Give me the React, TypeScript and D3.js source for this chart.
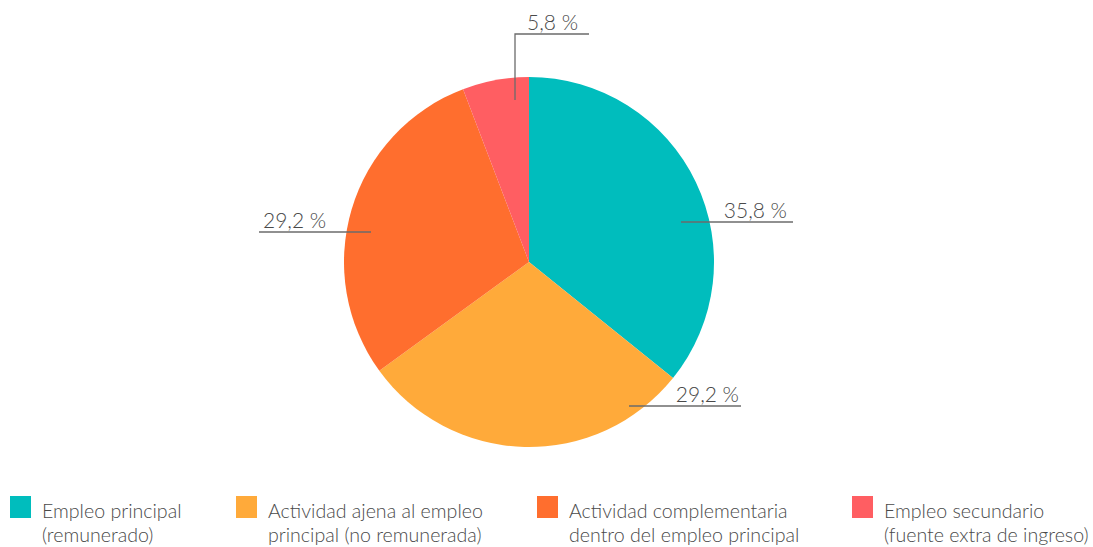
import React, { useEffect, useRef } from 'react';
import { select, pie, arc } from 'd3';

const categories = [
  'Empleo principal (remunerado)',
  'Actividad ajena al empleo principal (no remunerada)',
  'Actividad complementaria dentro del empleo principal',
  'Empleo secundario (fuente extra de ingreso)',
];
const values = [35.8, 29.2, 29.2, 5.8];
const valueLabels = ['35,8 %', '29,2 %', '29,2 %', '5,8 %'];
const colors = ['#00bdbd', '#ffaa3a', '#ff6e2e', '#ff5e62'];
const legendLines = [
  ['Empleo principal', '(remunerado)'],
  ['Actividad ajena al empleo', 'principal (no remunerada)'],
  ['Actividad complementaria', 'dentro del empleo principal'],
  ['Empleo secundario', '(fuente extra de ingreso)'],
];

const width = 1093;
const height = 547;
const cx = 529;
const cy = 262;
const radius = 185;
const font = 'Lato, "Open Sans", sans-serif';

// leader line layout relative to pie centre
const leaders = [
  { x1: 152, x2: 264, y: -40, anchor: 'end', tx: 258 },
  { x1: 100, x2: 212, y: 144, anchor: 'end', tx: 210 },
  { x1: -158, x2: -270, y: -30, anchor: 'start', tx: -266 },
  { x1: -14, x2: 60, y: -228, anchor: 'start', tx: -2, yStart: -162 },
];
const legendX = [10, 236, 537, 852];

export default function App() {
  const svgRef = useRef<SVGSVGElement>(null);

  useEffect(() => {
    const svg = select(svgRef.current);
    svg.selectAll('*').remove();

    const arcs = pie<number>().sort(null)(values);
    const arcGen = arc<any>().innerRadius(0).outerRadius(radius);

    const g = svg.append('g').attr('transform', `translate(${cx},${cy})`);
    g.selectAll('path.slice')
      .data(arcs)
      .join('path')
      .attr('class', 'slice')
      .attr('d', arcGen)
      .attr('fill', (d, i) => colors[i]);

    leaders.forEach((l, i) => {
      const path = l.yStart !== undefined
        ? `M${l.x1},${l.yStart}V${l.y}H${l.x2}`
        : `M${l.x1},${l.y}H${l.x2}`;
      g.append('path')
        .attr('d', path)
        .attr('fill', 'none')
        .attr('stroke', '#6b6b6b')
        .attr('stroke-width', 1.3);
      g.append('text')
        .attr('x', l.tx)
        .attr('y', l.y - 4)
        .attr('text-anchor', l.anchor)
        .attr('font-family', font)
        .attr('font-weight', 300)
        .attr('font-size', 21)
        .attr('fill', '#4a4a4a')
        .text(valueLabels[i]);
    });

    const legend = svg.append('g');
    categories.forEach((c, i) => {
      const item = legend.append('g').attr('transform', `translate(${legendX[i]},496)`);
      item.append('rect').attr('width', 21).attr('height', 22).attr('fill', colors[i]);
      item.append('title').text(c);
      legendLines[i].forEach((t, j) => {
        item.append('text')
          .attr('x', 32)
          .attr('y', 22 + j * 24)
          .attr('font-family', font)
          .attr('font-weight', 300)
          .attr('font-size', 19.6)
          .attr('fill', '#4a4a4a')
          .text(t);
      });
    });
  }, []);

  return (
    <svg
      ref={svgRef}
      width={width}
      height={height}
      style={{ position: 'absolute', left: 0, top: 0, background: '#fff' }}
    ></svg>
  );
}
